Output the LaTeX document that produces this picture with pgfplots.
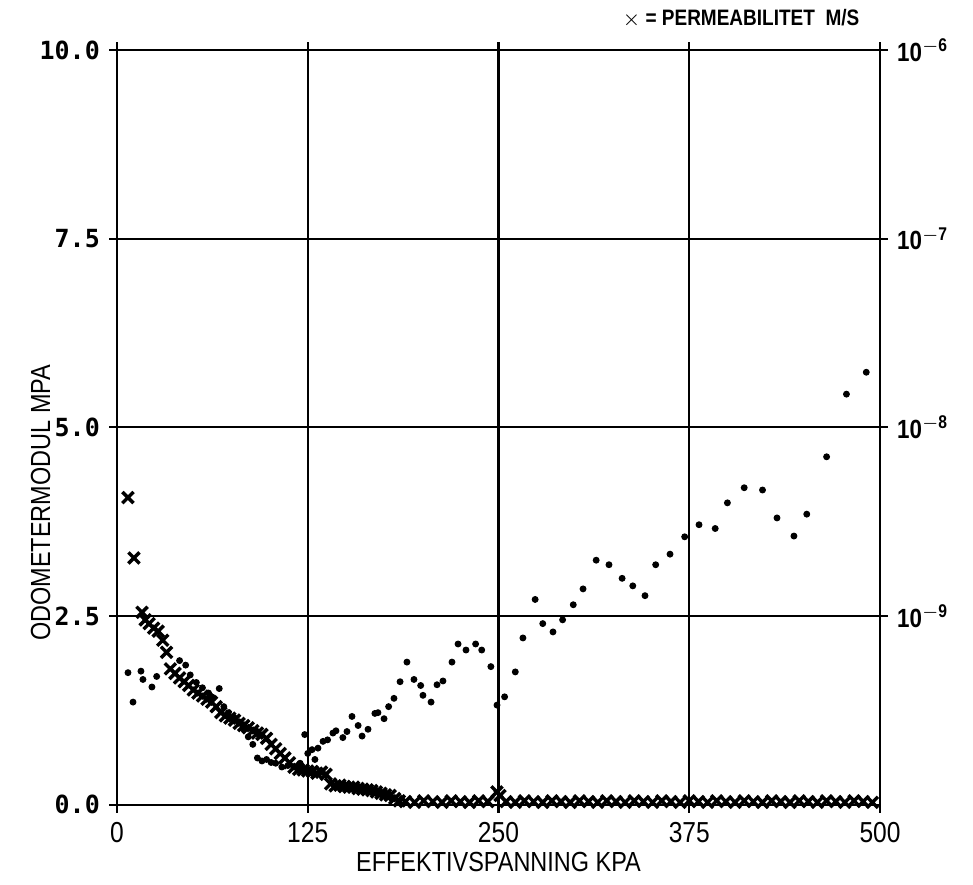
\documentclass[border=0pt]{standalone}
\usepackage{fontspec}
\setmainfont{Liberation Sans}[FakeStretch=0.85]
\newfontfamily\tickfont{DejaVu Sans Mono}
\usepackage{pgfplots}
\pgfplotsset{compat=1.18}

% odometer modulus (MPa) vs effective stress (kPa)
\pgfplotstableread{
x y
7.2 1.75
10.5 1.36
15.7 1.77
17 1.66
22.9 1.56
26 1.70
41 1.91
45 1.85
48 1.72
52 1.62
56 1.55
60 1.48
63 1.42
67 1.54
70 1.30
73 1.22
77 1.15
80 1.10
83 1.00
86 0.90
89 0.80
92 0.62
95 0.58
98 0.60
101 0.56
104 0.55
108 0.50
112 0.52
116 0.50
120 0.55
123 0.93
125 0.68
127.8 0.73
129.7 0.60
131.7 0.75
135 0.84
138 0.86
141.5 0.95
143.5 0.98
148 0.89
150.7 0.97
154 1.17
158 1.05
160.6 0.91
164.5 1.00
169 1.21
171 1.22
175 1.14
178 1.30
181.5 1.41
185.5 1.63
190 1.89
194.6 1.66
199 1.58
200.5 1.45
205.8 1.36
209.7 1.59
213.6 1.64
219.5 1.89
223.5 2.13
228.7 2.05
235 2.13
239 2.05
245 1.83
249 1.32
254 1.43
261 1.76
266 2.21
274 2.72
279 2.40
285.7 2.29
292 2.45
299 2.65
305.4 2.86
314 3.24
322.4 3.18
331 3.00
338 2.90
346 2.77
353 3.18
362.4 3.32
372 3.55
381.4 3.71
392 3.66
400 4.00
411 4.20
423 4.17
432.5 3.80
443.6 3.56
452 3.85
465 4.61
478 5.44
491 5.73
}\modul

% permeability (m/s) vs effective stress (kPa)
\pgfplotstableread{
x k
7.2 42.46e-10
11.1 20.32e-10
16.4 10.47e-10
18.5 9.55e-10
21 9.12e-10
24 8.63e-10
27 8.32e-10
30 7.45e-10
32.5 6.43e-10
35 5.25e-10
38 4.97e-10
41 4.70e-10
44 4.49e-10
47 4.29e-10
50 4.06e-10
53 3.91e-10
56 3.77e-10
59 3.63e-10
62 3.50e-10
65 3.31e-10
68 3.08e-10
71 2.96e-10
74 2.88e-10
77 2.81e-10
80 2.70e-10
83 2.63e-10
86 2.56e-10
89 2.47e-10
92 2.40e-10
95 2.36e-10
98 2.25e-10
101 2.09e-10
104 1.98e-10
107 1.87e-10
110 1.77e-10
113 1.67e-10
116 1.58e-10
119 1.54e-10
122 1.53e-10
125 1.51e-10
128 1.50e-10
131 1.47e-10
134 1.49e-10
137 1.45e-10
140 1.29e-10
143 1.26e-10
146 1.27e-10
149 1.25e-10
152 1.24e-10
155 1.24e-10
158 1.22e-10
161 1.21e-10
164 1.20e-10
167 1.19e-10
170 1.17e-10
173 1.15e-10
176 1.13e-10
179 1.12e-10
182 1.08e-10
185 1.05e-10
189 1.04e-10
195 1.03e-10
201 1.05e-10
207 1.04e-10
213 1.03e-10
219 1.05e-10
225 1.04e-10
231 1.03e-10
237 1.05e-10
243 1.04e-10
249 1.17e-10
251 1.12e-10
255 1.04e-10
261 1.03e-10
267 1.05e-10
273 1.04e-10
279 1.03e-10
285 1.05e-10
291 1.04e-10
297 1.03e-10
303 1.05e-10
309 1.04e-10
315 1.03e-10
321 1.05e-10
327 1.04e-10
333 1.03e-10
339 1.05e-10
345 1.04e-10
351 1.03e-10
357 1.05e-10
363 1.04e-10
369 1.03e-10
375 1.05e-10
381 1.04e-10
387 1.03e-10
393 1.05e-10
399 1.04e-10
405 1.03e-10
411 1.05e-10
417 1.04e-10
423 1.03e-10
429 1.05e-10
435 1.04e-10
441 1.03e-10
447 1.05e-10
453 1.04e-10
459 1.03e-10
465 1.05e-10
471 1.04e-10
477 1.03e-10
483 1.05e-10
489 1.04e-10
495 1.03e-10
}\perm

\begin{document}
\begin{tikzpicture}
\begin{axis}[
    scale only axis,
    width=10.2cm, height=10.09cm,
    xmin=0, xmax=500, ymin=0, ymax=10,
    xtick={0,125,250,375,500},
    ytick={0,2.5,5,7.5,10},
    axis y line*=left,
    grid=major,
    grid style={black, line width=0.8pt},
    axis line style={line width=0.9pt},
    tick style={black, line width=0.8pt},
    tick align=outside,
    major tick length=3pt,
    yticklabel style={font=\tickfont\bfseries\fontsize{9.5}{10}\selectfont,
        /pgf/number format/.cd, fixed, fixed zerofill, precision=1},
    xticklabel style={font=\fontsize{11}{12}\selectfont},
    /pgf/number format/assume math mode=true,
    xlabel={EFFEKTIVSPANNING KPA},
    ylabel={ODOMETERMODUL MPA},
    label style={font=\fontsize{10.5}{12}\selectfont},
    ylabel style={at={(axis description cs:-0.10,0.40)}, anchor=center},
    xlabel style={yshift=3pt},
]
  \addplot[only marks, mark=*, mark size=1.1pt, black] table[x=x, y=y] {\modul};
  \coordinate (sw) at (rel axis cs:0,0);
  \coordinate (ne) at (rel axis cs:1,1);
\end{axis}
\begin{axis}[
    scale only axis,
    width=10.2cm, height=10.09cm,
    xmin=0, xmax=500,
    ymode=log, ymin=1e-10, ymax=1e-6,
    ytick={1e-9,1e-8,1e-7,1e-6},
    yticklabels={10\textsuperscript{$-$9}, 10\textsuperscript{$-$8},
                 10\textsuperscript{$-$7}, 10\textsuperscript{$-$6}},
    axis x line=none,
    axis y line*=right,
    axis line style={line width=0.9pt},
    tick style={black, line width=0.8pt},
    tick align=outside,
    major tick length=3pt,
    yminorticks=false,
    yticklabel style={font=\bfseries\fontsize{10}{11}\selectfont},
    clip=false,
]
  \addplot[only marks, mark=x, mark size=3pt, line width=1.3pt, black] table[x=x, y=k] {\perm};
  \node[anchor=base east, font=\bfseries\fontsize{8.5}{10}\selectfont]
    at (rel axis cs:0.985,1) [yshift=0.33cm] {$\times$ = PERMEABILITET\ \ M/S};
\end{axis}
% page margins as in the scan
\path (sw) ++(-1.564,-1.069);
\path (ne) ++(1.243,0.668);
\end{tikzpicture}
\end{document}
